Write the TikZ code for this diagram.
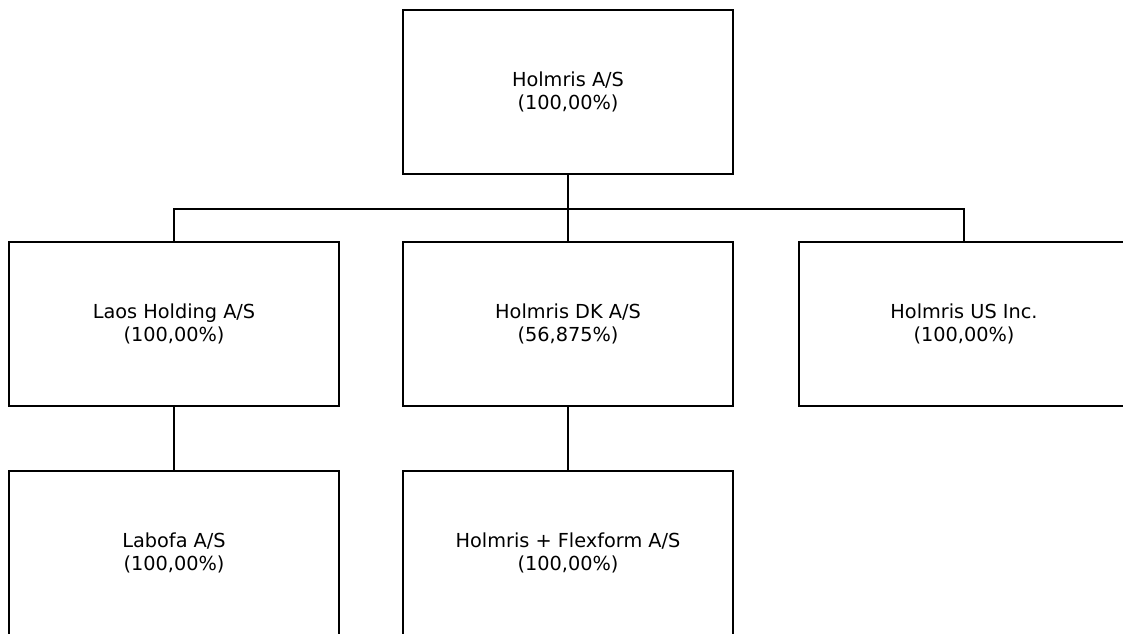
\documentclass[tikz,border=0pt]{standalone}
\usepackage{fontspec}
\setmainfont{DejaVu Sans}
\usetikzlibrary{positioning}

\begin{document}
\begin{tikzpicture}[x=1pt, y=1pt, every node/.style={rectangle, draw, line width=2pt, minimum width=330pt, minimum height=164pt, align=center, font=\fontsize{19.3}{23}\selectfont}]
\useasboundingbox (0,0) rectangle (1123,-635);
\clip (0,0) rectangle (1123,-633);
\node (holmris) at (568,-91.5) {Holmris A/S \\ (100,00\%)};
\node[below=66pt of holmris] (holmrisdk) {Holmris DK A/S \\ (56,875\%)};
\node[left=62pt of holmrisdk] (laos) {Laos Holding A/S \\ (100,00\%)};
\node[right=64pt of holmrisdk] (holmrisus) {Holmris US Inc. \\ (100,00\%)};
\node[below=63pt of laos] (labofa) {Labofa A/S \\ (100,00\%)};
\node[below=63pt of holmrisdk] (flexform) {Holmris + Flexform A/S \\ (100,00\%)};
% connectors
\coordinate (bus) at ([yshift=-34pt]holmris.south);
\draw[line width=2pt] (holmris.south) -- (bus);
\draw[line width=2pt] (laos.north) |- (bus) -| (holmrisus.north);
\draw[line width=2pt] (bus) -- (holmrisdk.north);
\draw[line width=2pt] (laos.south) -- (labofa.north);
\draw[line width=2pt] (holmrisdk.south) -- (flexform.north);
\end{tikzpicture}
\end{document}
